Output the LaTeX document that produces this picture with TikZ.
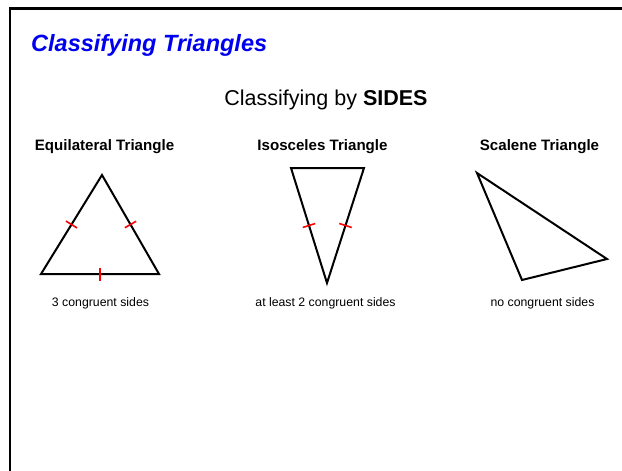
\documentclass[tikz,border=0pt]{standalone}
\usepackage{fontspec}
\setmainfont{Liberation Sans}
\usetikzlibrary{calc}
\definecolor{titleblue}{RGB}{0,0,240}
\tikzset{
  tri/.style={line width=2pt, line join=miter},
  tick/.style={red, line width=1.6pt},
  header/.style={font=\fontsize{15.1}{17}\selectfont\bfseries, anchor=base, inner sep=0pt},
  caption/.style={font=\fontsize{12.3}{14}\selectfont, anchor=base, inner sep=0pt},
  frame/.style={line width=2.5pt}
}
\newcommand{\ticks}[2]{%
  \draw[tick] ($($(#1)!0.5!(#2)$)!6.5pt!90:(#2)$) -- ($($(#1)!0.5!(#2)$)!6.5pt!-90:(#2)$);}
\begin{document}
\begin{tikzpicture}[x=1pt,y=-1pt]
\useasboundingbox (0,0) rectangle (622,471);
\fill[white] (0,0) rectangle (622,471);
% frame
\coordinate (fl) at (10,471);
\coordinate (fc) at (10,8.6);
\coordinate (fr) at (622,8.6);
\draw[frame] (fl) -- (fc) -- (fr);
% title
\node[anchor=base west, inner sep=0pt, text=titleblue,
  font=\fontsize{23.5}{28}\selectfont\bfseries\itshape] (title) at (31,51.5) {Classifying Triangles};
\node[anchor=base, inner sep=0pt, font=\fontsize{21.5}{25}\selectfont] (sub) at (326,105) {Classifying by \textbf{SIDES}};
% headers
\node[header] (h1) at (104.5,150.5) {Equilateral Triangle};
\node[header] (h2) at (322.5,150.5) {Isosceles Triangle};
\node[header] (h3) at (539.5,150.5) {Scalene Triangle};
% equilateral
\coordinate (e1) at (102,175);
\coordinate (e2) at (41,274);
\coordinate (e3) at (159,274);
\draw[tri] (e1) -- (e2) -- (e3) -- cycle;
\ticks{e1}{e2}
\ticks{e1}{e3}
\ticks{e2}{e3}
% isosceles
\coordinate (i1) at (291,168);
\coordinate (i2) at (364,168);
\coordinate (i3) at (327,283);
\draw[tri] (i1) -- (i2) -- (i3) -- cycle;
\ticks{i1}{i3}
\ticks{i2}{i3}
% scalene
\coordinate (s1) at (477,173);
\coordinate (s2) at (607,259);
\coordinate (s3) at (522,280);
\draw[tri] (s1) -- (s2) -- (s3) -- cycle;
% captions
\node[caption] (c1) at (100.5,306.5) {3 congruent sides};
\node[caption] (c2) at (325.5,306.5) {at least 2 congruent sides};
\node[caption] (c3) at (542.5,306.5) {no congruent sides};
\end{tikzpicture}
\end{document}
